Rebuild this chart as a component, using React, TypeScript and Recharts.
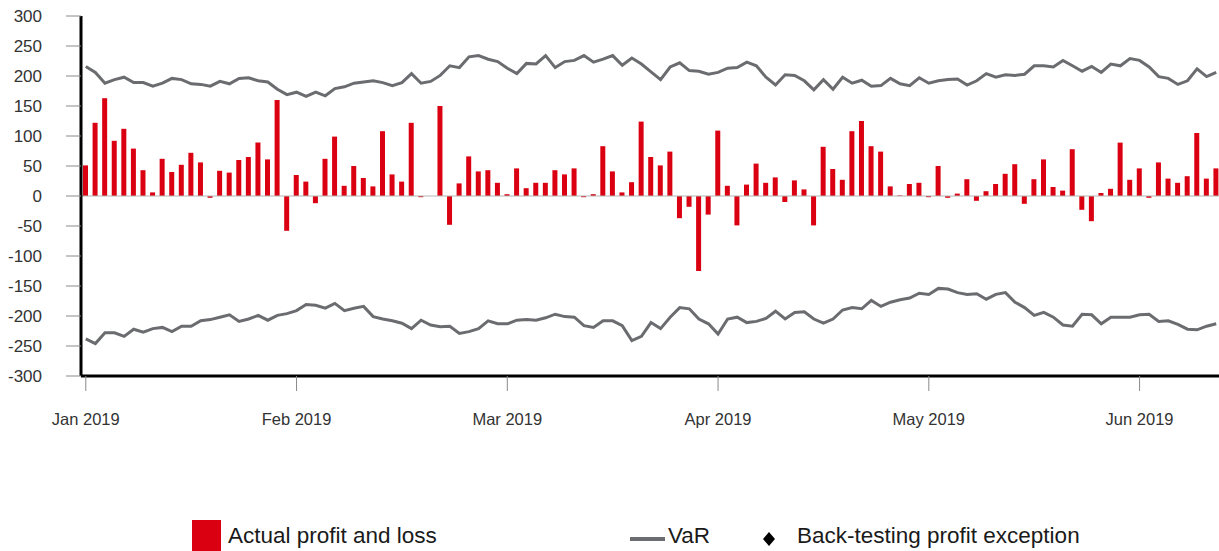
import { ComposedChart, Bar, Line, XAxis, YAxis, ReferenceLine } from "recharts"

// daily actual profit and loss, Jan - mid Jun 2019
const pnl = [
  51, 122, 163, 92, 112, 79, 43, 6, 62, 40, 52, 72, 56, -3, 42, 39, 60, 65, 89, 61,
  160, -58, 35, 24, -12, 62, 99, 17, 50, 30, 16, 108, 36, 24, 122, -2, 0, 150, -48, 21,
  66, 41, 43, 22, 3, 46, 13, 22, 22, 43, 36, 46, -2, 3, 83, 41, 6, 23, 124, 65,
  51, 74, -37, -18, -125, -31, 109, 17, -49, 19, 54, 22, 31, -10, 26, 11, -49, 82, 45, 27,
  108, 125, 83, 74, 16, 1, 20, 22, -2, 50, -3, 4, 28, -8, 8, 20, 37, 53, -13, 28,
  61, 15, 9, 78, -23, -42, 5, 12, 89, 27, 46, -3, 56, 29, 22, 33, 105, 29, 46,
]

const varUpper = [
  216, 206, 188, 194, 198, 189, 189, 183, 188, 196, 194, 187, 186, 183, 191, 187, 196, 197, 192, 190,
  178, 169, 173, 166, 173, 167, 179, 182, 188, 190, 192, 189, 184, 189, 204, 188, 191, 201, 217, 214,
  232, 234, 228, 224, 213, 204, 221, 220, 234, 214, 224, 226, 234, 223, 228, 234, 218, 230, 220, 207,
  194, 215, 222, 209, 208, 203, 206, 213, 214, 223, 217, 198, 185, 202, 201, 192, 177, 194, 178, 198,
  188, 193, 183, 184, 196, 187, 184, 197, 188, 192, 194, 195, 185, 192, 204, 198, 202, 201, 203, 217,
  217, 215, 226, 217, 208, 216, 206, 220, 217, 229, 226, 215, 199, 196, 186, 192, 212, 199, 206,
]

const varLower = [
  -238, -246, -228, -228, -234, -222, -227, -221, -219, -226, -217, -217, -208, -206, -202, -198, -209, -205, -199, -207,
  -199, -196, -191, -181, -182, -187, -179, -191, -187, -184, -201, -205, -208, -212, -221, -207, -215, -218, -217, -229,
  -226, -221, -208, -213, -213, -207, -206, -207, -203, -197, -201, -202, -216, -219, -208, -208, -216, -241, -234, -211,
  -221, -202, -186, -188, -205, -213, -230, -205, -202, -211, -209, -204, -192, -205, -194, -193, -205, -212, -205, -190,
  -186, -188, -174, -184, -177, -173, -170, -162, -164, -154, -155, -161, -164, -163, -172, -164, -161, -177, -186, -199,
  -194, -202, -215, -217, -197, -198, -213, -202, -202, -202, -198, -197, -209, -208, -214, -222, -223, -217, -213,
]

const monthLabels = ["Jan 2019", "Feb 2019", "Mar 2019", "Apr 2019", "May 2019", "Jun 2019"]
const daysPerLabel = 22
const yTicks = [-300, -250, -200, -150, -100, -50, 0, 50, 100, 150, 200, 250, 300]

const RED = "#db0011"
const GREY = "#6b6c6f"
const FONT = "'Liberation Sans', Arial, sans-serif"

const data = pnl.map((v, i) => ({ day: i, pnl: v, upper: varUpper[i], lower: varLower[i] }))

export default function App() {
  return (
    <div style={{ position: "absolute", left: 0, top: 0, width: 1219, height: 551, overflow: "hidden", background: "#fff" }}>
      <ComposedChart
        width={1221}
        height={460}
        data={data}
        margin={{ top: 16, right: 0, bottom: 0, left: 0 }}
        barCategoryGap={0}
      >
        <XAxis
          dataKey="day"
          interval={daysPerLabel - 1}
          tickFormatter={(d) => monthLabels[Math.floor(d / daysPerLabel)] ?? ""}
          height={84}
          tickSize={15}
          tickMargin={22}
          axisLine={{ stroke: "#000", strokeWidth: 3 }}
          tickLine={{ stroke: "#8a8a8a", strokeWidth: 1 }}
          tick={{ fill: "#333", fontSize: 16.5, fontFamily: FONT }}
        />
        <YAxis
          type="number"
          domain={[-300, 300]}
          ticks={yTicks}
          width={81}
          tickSize={15}
          tickMargin={24}
          axisLine={{ stroke: "#000", strokeWidth: 3 }}
          tickLine={{ stroke: "#8a8a8a", strokeWidth: 1 }}
          tick={{ fill: "#333", fontSize: 17, fontFamily: FONT }}
        />
        <ReferenceLine y={0} stroke="#b5b5b5" strokeWidth={1} />
        <Bar dataKey="pnl" fill={RED} barSize={5} isAnimationActive={false} />
        <Line type="linear" dataKey="upper" stroke={GREY} strokeWidth={3} dot={false} isAnimationActive={false} />
        <Line type="linear" dataKey="lower" stroke={GREY} strokeWidth={3} dot={false} isAnimationActive={false} />
      </ComposedChart>

      <svg width={1219} height={51} style={{ position: "absolute", left: 0, top: 500 }}>
        <rect x={192} y={20} width={29} height={31} fill={RED} />
        <text x={228} y={43} fontSize={22.5} fontFamily={FONT} fill="#1a1a1a">Actual profit and loss</text>
        <line x1={630} x2={665} y1={39} y2={39} stroke={GREY} strokeWidth={4} />
        <text x={668} y={43} fontSize={22.5} fontFamily={FONT} fill="#1a1a1a">VaR</text>
        <path d="M769 32 L775 39 L769 46 L763 39 Z" fill="#000" />
        <text x={797} y={43} fontSize={22.5} fontFamily={FONT} fill="#1a1a1a">Back-testing profit exception</text>
      </svg>
    </div>
  )
}
